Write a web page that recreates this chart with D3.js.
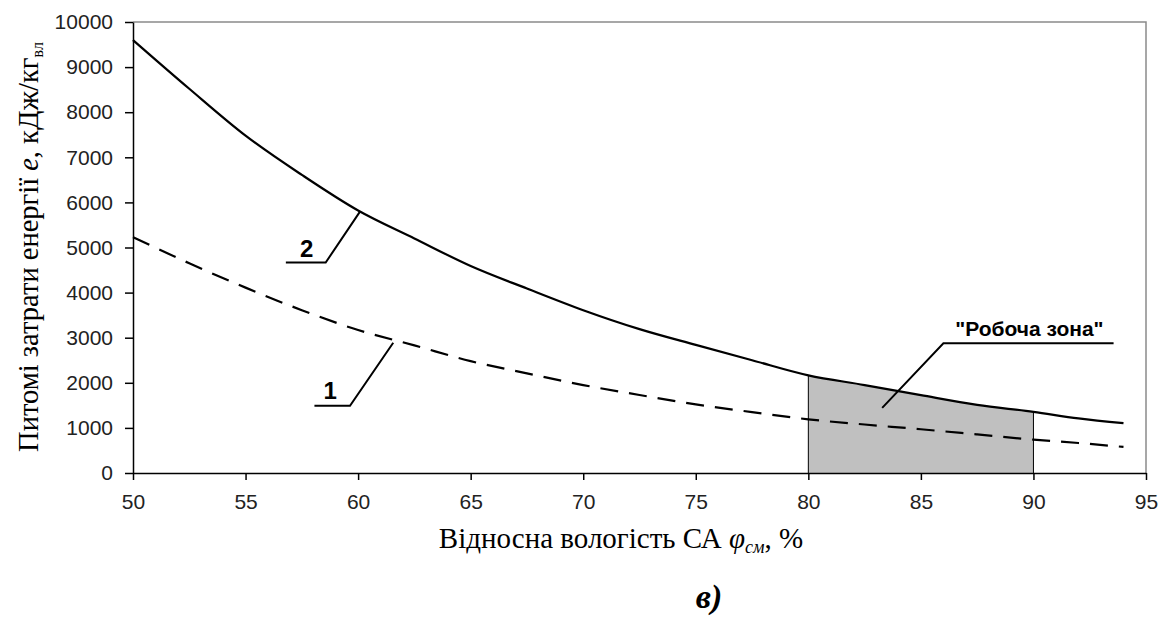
<!DOCTYPE html>
<html>
<head>
<meta charset="utf-8">
<script src="https://cdn.jsdelivr.net/npm/d3@7"></script>
<style>
  body { margin: 0; background: #fff; }
  svg { display: block; }
  .tick text { font-family: "Liberation Sans", Arial, sans-serif; font-size: 21px; fill: #222; }
</style>
</head>
<body>
<div id="chart"></div>
<script>
// humidity values, %
const humidity = [50, 52.5, 55, 57.5, 60, 62.5, 65, 67.5, 70, 72.5, 75, 77.5, 80, 82.5, 85, 87.5, 90, 92, 94]
// curve 2 (solid), kJ/kg
const energy2 = [9600, 8520, 7480, 6610, 5820, 5200, 4590, 4090, 3610, 3190, 2840, 2500, 2165, 1950, 1725, 1510, 1356, 1210, 1104]
// curve 1 (dashed), kJ/kg
const energy1 = [5230, 4650, 4110, 3610, 3170, 2830, 2480, 2210, 1950, 1730, 1520, 1350, 1190, 1075, 970, 855, 740, 665, 578]
const xTicks = [50, 55, 60, 65, 70, 75, 80, 85, 90, 95]
const yTicks = [0, 1000, 2000, 3000, 4000, 5000, 6000, 7000, 8000, 9000, 10000]
const zone = [80, 90]

const width = 1160, height = 617
let margin = { top: 22, right: 14, bottom: 144, left: 133 }
let dims = {
  width: width - margin.left - margin.right,
  height: height - margin.top - margin.bottom
}

const svg = d3.select("#chart")
  .append("svg")
  .attr("width", width)
  .attr("height", height)

const g = svg.append("g")
  .attr("transform", `translate(${margin.left},${margin.top})`)

let x = d3.scaleLinear().domain([50, 95]).range([0, dims.width])
let y = d3.scaleLinear().domain([0, 10000]).range([dims.height, 0])

const data2 = humidity.map((h, i) => ({ h: h, e: energy2[i] }))
const data1 = humidity.map((h, i) => ({ h: h, e: energy1[i] }))

// plot frame (top / right)
g.append("path")
  .attr("d", `M0,0H${dims.width}V${dims.height}`)
  .attr("fill", "none")
  .attr("stroke", "#8a8a8a")
  .attr("stroke-width", 1.5)

// working zone shading
g.append("clipPath").attr("id", "zoneClip")
  .append("rect")
  .attr("x", x(zone[0]))
  .attr("y", 0)
  .attr("width", x(zone[1]) - x(zone[0]))
  .attr("height", dims.height)

const curve = d3.curveMonotoneX
g.append("path")
  .datum(data2)
  .attr("clip-path", "url(#zoneClip)")
  .attr("fill", "#c0c0c0")
  .attr("d", d3.area().x(d => x(d.h)).y0(y(0)).y1(d => y(d.e)).curve(curve))

g.selectAll(".zoneEdge")
  .data(data2.filter(d => zone.includes(d.h)))
  .join("line")
  .attr("class", "zoneEdge")
  .attr("x1", d => x(d.h)).attr("x2", d => x(d.h))
  .attr("y1", y(0)).attr("y2", d => y(d.e))
  .attr("stroke", "#000")
  .attr("stroke-width", 1)

// axes
g.append("g")
  .attr("transform", `translate(0,${dims.height})`)
  .call(d3.axisBottom(x).tickValues(xTicks).tickSize(7).tickPadding(14).tickSizeOuter(0))
  .call(a => a.selectAll("line, path").attr("stroke", "#000").attr("stroke-width", 1.5))

g.append("g")
  .call(d3.axisLeft(y).tickValues(yTicks).tickFormat(d3.format("d")).tickSize(8).tickPadding(12).tickSizeOuter(0))
  .call(a => a.selectAll("line, path").attr("stroke", "#000").attr("stroke-width", 1.5))

// curves
g.append("path")
  .datum(data1)
  .attr("fill", "none")
  .attr("stroke", "#000")
  .attr("stroke-width", 2.2)
  .attr("stroke-dasharray", "18,11")
  .attr("d", d3.line().x(d => x(d.h)).y(d => y(d.e)).curve(curve))

g.append("path")
  .datum(data2)
  .attr("fill", "none")
  .attr("stroke", "#000")
  .attr("stroke-width", 2.2)
  .attr("d", d3.line().x(d => x(d.h)).y(d => y(d.e)).curve(curve))

// leader lines with labels
const leaders = [
  { label: "2", pts: [[56.79, 4667], [58.56, 4667], [60.09, 5800]], tx: 57.72, ty: 4790, size: 24 },
  { label: "1", pts: [[58.06, 1489], [59.64, 1489], [61.56, 2889]], tx: 58.76, ty: 1640, size: 24 },
  { label: "\"Робоча зона\"", pts: [[83.28, 1444], [86.0, 2876], [93.56, 2876]], tx: 89.82, ty: 3040, size: 21 }
]
leaders.forEach(l => {
  g.append("path")
    .attr("d", d3.line()(l.pts.map(p => [x(p[0]), y(p[1])])))
    .attr("fill", "none")
    .attr("stroke", "#000")
    .attr("stroke-width", 2)
  g.append("text")
    .attr("x", x(l.tx))
    .attr("y", y(l.ty))
    .attr("text-anchor", "middle")
    .attr("font-family", "Liberation Sans, Arial, sans-serif")
    .attr("font-weight", "bold")
    .attr("font-size", l.size)
    .text(l.label)
})

// axis titles
const xt = svg.append("text")
  .attr("x", 621)
  .attr("y", 548)
  .attr("text-anchor", "middle")
  .attr("font-family", "Liberation Serif, Times New Roman, serif")
  .attr("font-size", 29)
xt.append("tspan").text("Відносна вологість СА ")
xt.append("tspan").attr("font-style", "italic").text("φ")
xt.append("tspan").attr("font-style", "italic").attr("font-size", 18).attr("dy", 5).text("см")
xt.append("tspan").attr("dy", -5).text(", %")

const yt = svg.append("text")
  .attr("transform", `translate(38,247) rotate(-90)`)
  .attr("text-anchor", "middle")
  .attr("font-family", "Liberation Serif, Times New Roman, serif")
  .attr("font-size", 28.5)
yt.append("tspan").text("Питомі затрати енергії ")
yt.append("tspan").attr("font-style", "italic").text("e")
yt.append("tspan").text(", кДж/кг")
yt.append("tspan").attr("font-size", 16).attr("dy", 5).text("вл")

svg.append("text")
  .attr("x", 709)
  .attr("y", 608)
  .attr("text-anchor", "middle")
  .attr("font-family", "Liberation Serif, Times New Roman, serif")
  .attr("font-size", 34)
  .attr("font-weight", "bold")
  .attr("font-style", "italic")
  .text("в)")
</script>
</body>
</html>
